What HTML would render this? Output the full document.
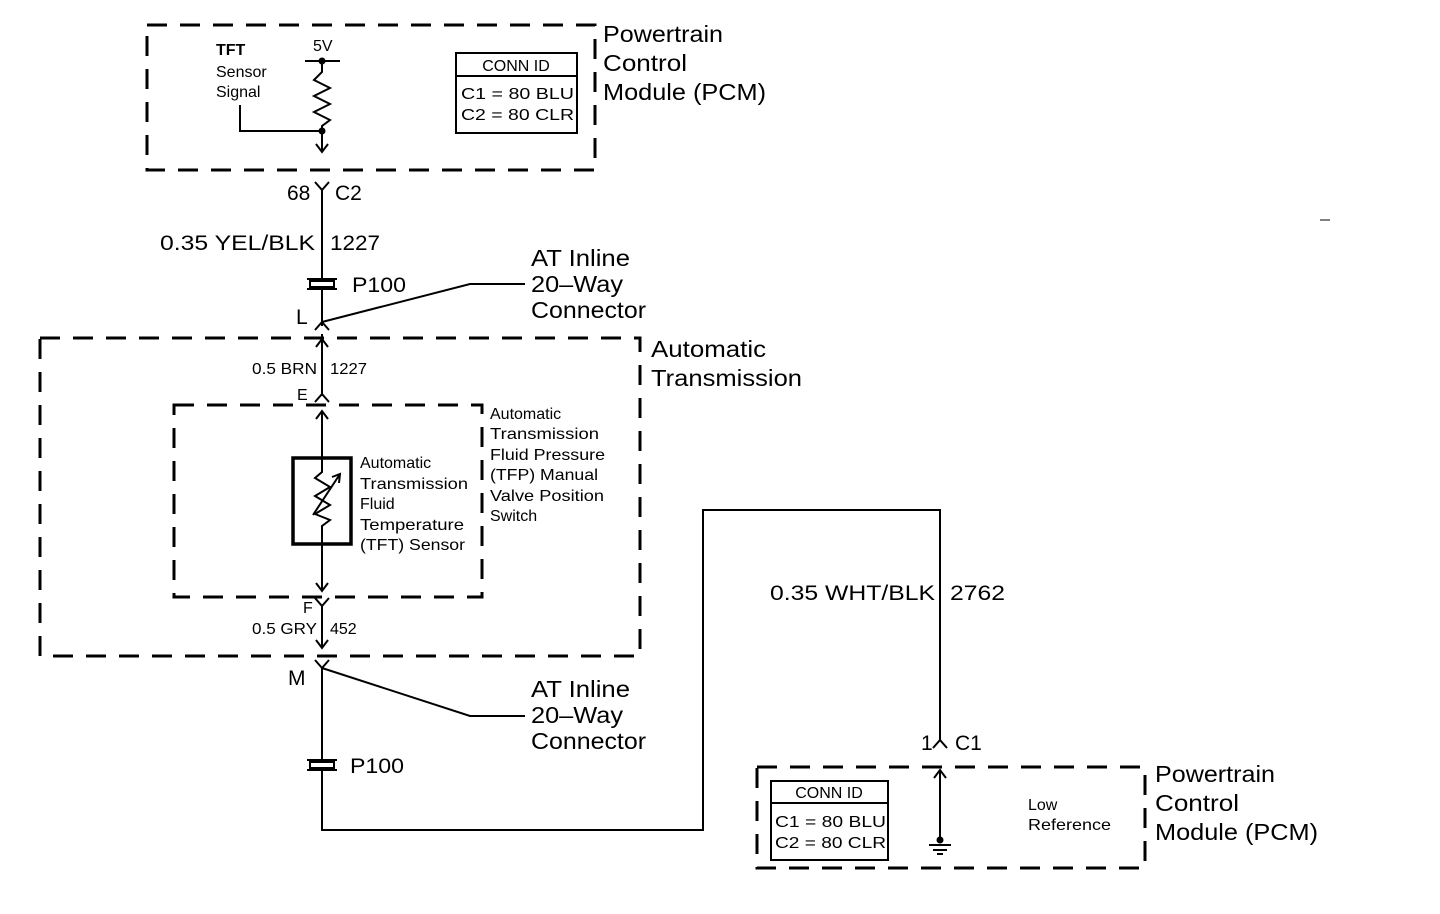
<!DOCTYPE html>
<html><head><meta charset="utf-8"><style>
html,body{margin:0;padding:0;background:#fff;}
svg{display:block;}
text{font-family:"Liberation Sans",Arial,sans-serif;fill:#000;}
.b{font-size:23px;}
.s{font-size:16px;}
.m{font-size:21px;}
</style></head><body>
<svg width="1440" height="914" viewBox="0 0 1440 914" xmlns="http://www.w3.org/2000/svg">
<g fill="none" stroke="#000" stroke-width="3" stroke-dasharray="20,13">
<rect x="147" y="25" width="448" height="145"/>
<rect x="40" y="338" width="600" height="318"/>
<rect x="174" y="405" width="308" height="192"/>
<rect x="757" y="767" width="388" height="101"/>
</g>
<g fill="none" stroke="#000" stroke-width="2">
<line x1="305" y1="61" x2="340" y2="61"/>
<polyline points="322,61 322,72 314,80 330,88 314,96 330,104 314,112 330,120 322,126 322,150"/>
<polyline points="240,105 240,131 322,131"/>
<polyline points="316,144 322,152 328,144"/>
<rect x="456" y="53" width="121" height="80"/>
<line x1="456" y1="76" x2="577" y2="76"/>
<polyline points="315,182 322,190 329,182"/>
<line x1="322" y1="190" x2="322" y2="278"/>
<path d="M307,279 h30 M307,289 h30 M310,281 h24 v6 h-24 z"/>
<line x1="322" y1="290" x2="322" y2="326"/>
<polyline points="315,330 322,322 329,330"/>
<polyline points="322,322 470,284 525,284"/>
<line x1="322" y1="334" x2="322" y2="396"/>
<polyline points="316,347 322,339 328,347"/>
<polyline points="315,402 322,394 329,402"/>
<polyline points="316,419 322,411 328,419"/>
<line x1="322" y1="412" x2="322" y2="457"/>
<rect x="293" y="458" width="58" height="86" stroke-width="3.5"/>
<polyline points="322,458 322,472 315,478 330,487 315,496 330,505 315,514 330,520 322,526 322,590"/>
<line x1="313" y1="515" x2="340" y2="474"/>
<polyline points="332,477 340,474 339,483"/>
<polyline points="316,583 322,591 328,583"/>
<polyline points="315,598 322,606 329,598"/>
<line x1="322" y1="606" x2="322" y2="648"/>
<polyline points="316,640 322,648 328,640"/>
<polyline points="315,660 322,668 329,660"/>
<polyline points="322,668 470,716 525,716"/>
<line x1="322" y1="668" x2="322" y2="759"/>
<path d="M307,760 h30 M307,770 h30 M310,762 h24 v6 h-24 z"/>
<polyline points="322,771 322,830 703,830 703,510 940,510 940,740"/>
<polyline points="933,748 940,740 947,748"/>
<polyline points="934,778 940,770 946,778"/>
<line x1="940" y1="771" x2="940" y2="840"/>
<path d="M929,845 h22 M933,850 h14 M937,854 h6"/>
<rect x="771" y="781" width="117" height="79"/>
<line x1="771" y1="803" x2="888" y2="803"/>
<line x1="1320" y1="220" x2="1330" y2="220" stroke-width="1"/>
</g>
<circle cx="322" cy="61" r="3.5"/>
<circle cx="322" cy="131" r="3.5"/>
<circle cx="940" cy="840" r="3.5"/>
<g lengthAdjust="spacingAndGlyphs">
<text class="b" x="603" y="42" textLength="120" lengthAdjust="spacingAndGlyphs">Powertrain</text>
<text class="b" x="603" y="71" textLength="84" lengthAdjust="spacingAndGlyphs">Control</text>
<text class="b" x="603" y="100" textLength="163" lengthAdjust="spacingAndGlyphs">Module (PCM)</text>
<text class="s" x="216" y="55" font-weight="bold">TFT</text>
<text class="s" x="216" y="77">Sensor</text>
<text class="s" x="216" y="97">Signal</text>
<text class="s" x="313" y="51">5V</text>
<text class="s" x="516" y="71" text-anchor="middle">CONN ID</text>
<text class="s" x="461" y="99" textLength="113" lengthAdjust="spacingAndGlyphs">C1 = 80 BLU</text>
<text class="s" x="461" y="120" textLength="113" lengthAdjust="spacingAndGlyphs">C2 = 80 CLR</text>
<text class="m" x="287" y="200">68</text>
<text class="m" x="335" y="200">C2</text>
<text class="m" x="160" y="250" textLength="155" lengthAdjust="spacingAndGlyphs">0.35 YEL/BLK</text>
<text class="m" x="330" y="250" textLength="50" lengthAdjust="spacingAndGlyphs">1227</text>
<text class="m" x="352" y="292" textLength="54" lengthAdjust="spacingAndGlyphs">P100</text>
<text class="m" x="296" y="324">L</text>
<text class="b" x="531" y="266" textLength="99" lengthAdjust="spacingAndGlyphs">AT Inline</text>
<text class="b" x="531" y="292" textLength="92" lengthAdjust="spacingAndGlyphs">20–Way</text>
<text class="b" x="531" y="318" textLength="115" lengthAdjust="spacingAndGlyphs">Connector</text>
<text class="b" x="651" y="357" textLength="115" lengthAdjust="spacingAndGlyphs">Automatic</text>
<text class="b" x="651" y="386" textLength="151" lengthAdjust="spacingAndGlyphs">Transmission</text>
<text class="s" x="252" y="374" textLength="65" lengthAdjust="spacingAndGlyphs">0.5 BRN</text>
<text class="s" x="330" y="374" textLength="37" lengthAdjust="spacingAndGlyphs">1227</text>
<text class="s" x="297" y="400">E</text>
<text class="s" x="490" y="419">Automatic</text>
<text class="s" x="490" y="439" textLength="109" lengthAdjust="spacingAndGlyphs">Transmission</text>
<text class="s" x="490" y="460" textLength="115" lengthAdjust="spacingAndGlyphs">Fluid Pressure</text>
<text class="s" x="490" y="480" textLength="108" lengthAdjust="spacingAndGlyphs">(TFP) Manual</text>
<text class="s" x="490" y="501" textLength="114" lengthAdjust="spacingAndGlyphs">Valve Position</text>
<text class="s" x="490" y="521">Switch</text>
<text class="s" x="360" y="468">Automatic</text>
<text class="s" x="360" y="489" textLength="108" lengthAdjust="spacingAndGlyphs">Transmission</text>
<text class="s" x="360" y="509">Fluid</text>
<text class="s" x="360" y="530" textLength="104" lengthAdjust="spacingAndGlyphs">Temperature</text>
<text class="s" x="360" y="550" textLength="105" lengthAdjust="spacingAndGlyphs">(TFT) Sensor</text>
<text class="s" x="303" y="613">F</text>
<text class="s" x="252" y="634" textLength="65" lengthAdjust="spacingAndGlyphs">0.5 GRY</text>
<text class="s" x="330" y="634">452</text>
<text class="m" x="288" y="685">M</text>
<text class="b" x="531" y="697" textLength="99" lengthAdjust="spacingAndGlyphs">AT Inline</text>
<text class="b" x="531" y="723" textLength="92" lengthAdjust="spacingAndGlyphs">20–Way</text>
<text class="b" x="531" y="749" textLength="115" lengthAdjust="spacingAndGlyphs">Connector</text>
<text class="m" x="350" y="773" textLength="54" lengthAdjust="spacingAndGlyphs">P100</text>
<text class="m" x="770" y="600" textLength="165" lengthAdjust="spacingAndGlyphs">0.35 WHT/BLK</text>
<text class="m" x="950" y="600" textLength="55" lengthAdjust="spacingAndGlyphs">2762</text>
<text class="m" x="921" y="750">1</text>
<text class="m" x="955" y="750">C1</text>
<text class="b" x="1155" y="782" textLength="120" lengthAdjust="spacingAndGlyphs">Powertrain</text>
<text class="b" x="1155" y="811" textLength="84" lengthAdjust="spacingAndGlyphs">Control</text>
<text class="b" x="1155" y="840" textLength="163" lengthAdjust="spacingAndGlyphs">Module (PCM)</text>
<text class="s" x="829" y="798" text-anchor="middle">CONN ID</text>
<text class="s" x="775" y="827" textLength="111" lengthAdjust="spacingAndGlyphs">C1 = 80 BLU</text>
<text class="s" x="775" y="848" textLength="111" lengthAdjust="spacingAndGlyphs">C2 = 80 CLR</text>
<text class="s" x="1028" y="810">Low</text>
<text class="s" x="1028" y="830" textLength="83" lengthAdjust="spacingAndGlyphs">Reference</text>
</g>
</svg>
</body></html>
